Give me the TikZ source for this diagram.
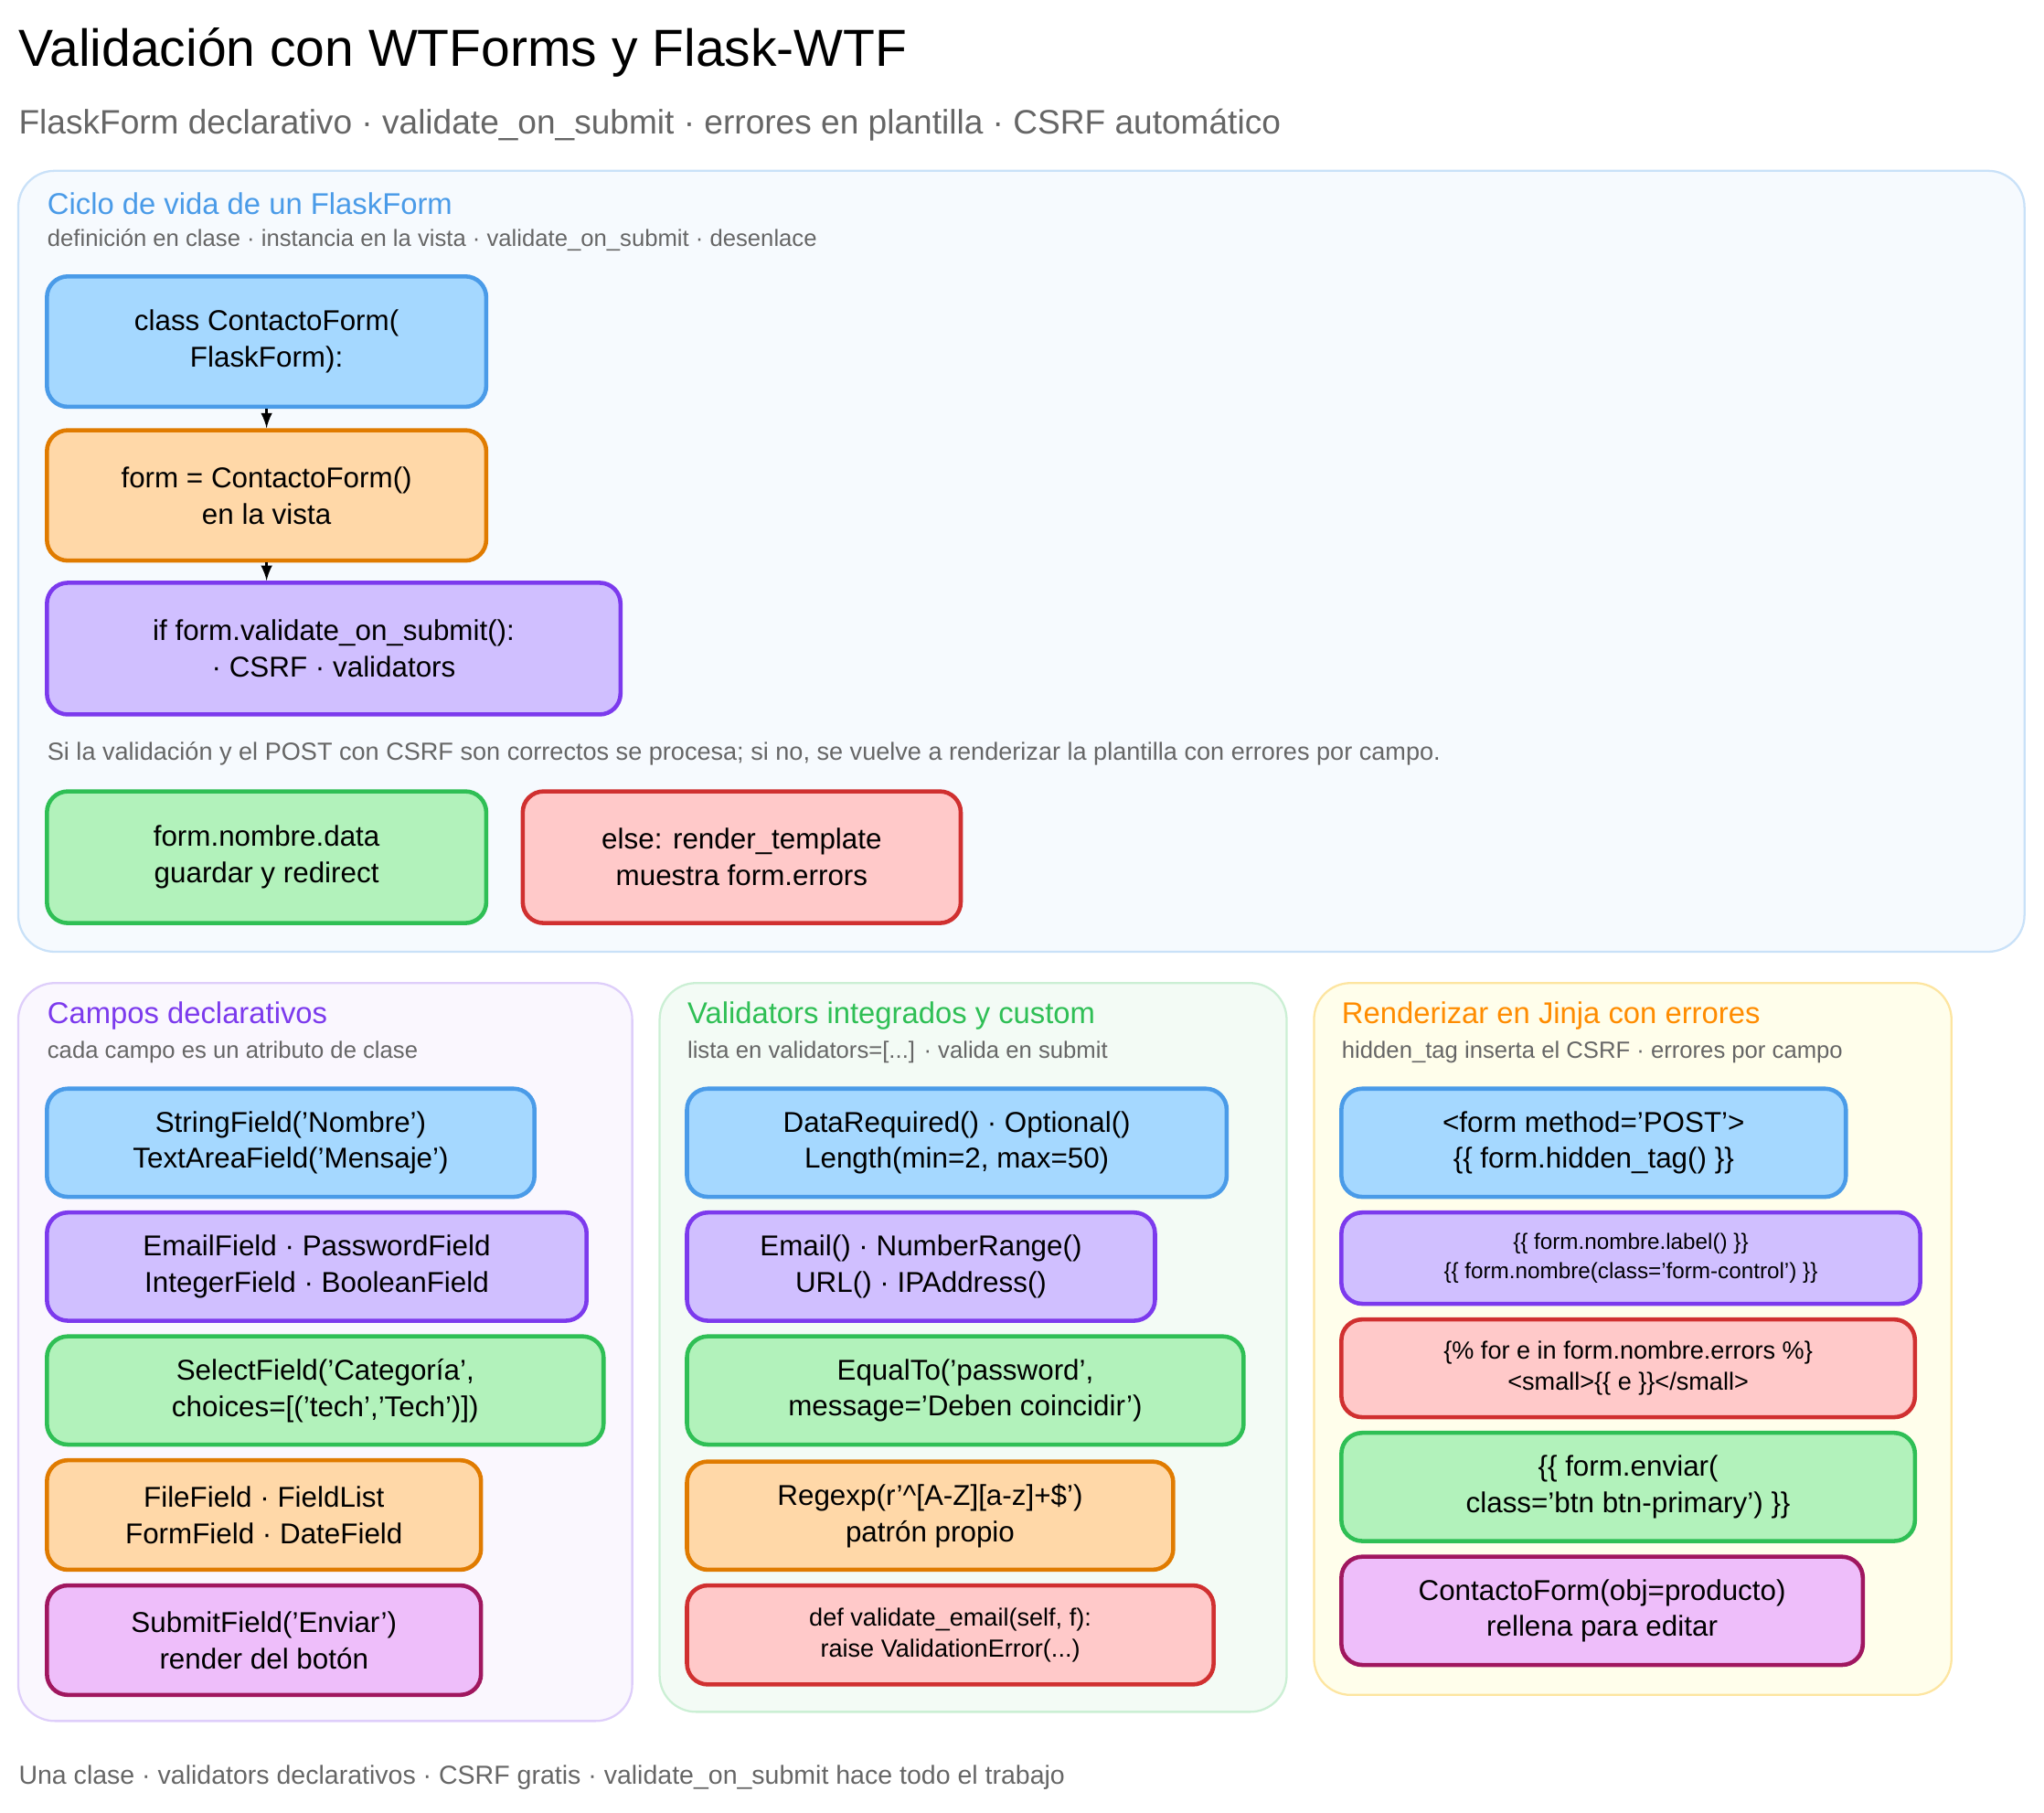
\documentclass[tikz,border=0pt]{standalone}
\usepackage{fontspec}
\setmainfont{Liberation Sans}
\usepackage{tikz}
\definecolor{inkBlue}{HTML}{4A9BE8}
\definecolor{fillBlue}{HTML}{A5D8FF}
\definecolor{inkOrange}{HTML}{E07B00}
\definecolor{fillOrange}{HTML}{FFD8A8}
\definecolor{inkPurple}{HTML}{7C3AED}
\definecolor{fillPurple}{HTML}{D0BFFF}
\definecolor{inkGreen}{HTML}{2FBF55}
\definecolor{fillGreen}{HTML}{B2F2BB}
\definecolor{inkRed}{HTML}{D03030}
\definecolor{fillRed}{HTML}{FFC9C9}
\definecolor{inkPink}{HTML}{A0175F}
\definecolor{fillPink}{HTML}{EEBEFA}
\definecolor{txtGray}{HTML}{666666}
\newcommand{\boxLine}[0]{1.6pt}
\begin{document}
\begin{tikzpicture}[x=0.5pt, y=-0.5pt,
  blk/.style={rounded corners=8pt, line width=\boxLine, align=center, inner sep=0pt, font=\fontsize{11}{14}\selectfont},
  blue/.style={blk, draw=inkBlue, fill=fillBlue},
  orange/.style={blk, draw=inkOrange, fill=fillOrange},
  purple/.style={blk, draw=inkPurple, fill=fillPurple},
  green/.style={blk, draw=inkGreen, fill=fillGreen},
  red/.style={blk, draw=inkRed, fill=fillRed},
  pink/.style={blk, draw=inkPink, fill=fillPink},
  panel/.style={rounded corners=14pt, line width=0.8pt, inner sep=0pt},
  ptitle/.style={anchor=west, inner sep=0pt, font=\fontsize{11.5}{14}\selectfont},
  psub/.style={anchor=west, inner sep=0pt, text=txtGray, font=\fontsize{9}{11}\selectfont},
  flow/.style={-latex, line width=1pt}]
  \useasboundingbox (0,0) rectangle (1568,1390);
  % heading
  \node[anchor=west, inner sep=0pt, font=\fontsize{20}{24}\selectfont] (title) at (14,40) {Validación con WTForms y Flask-WTF};
  \node[anchor=west, inner sep=0pt, text=txtGray, font=\fontsize{13}{16}\selectfont] (subtitle) at (14,96) {FlaskForm declarativo · validate\_on\_submit · errores en plantilla · CSRF automático};
  % panels
  \node[panel, draw=inkBlue!30, fill=inkBlue!5, minimum width=769.5pt, minimum height=299.5pt] (life) at (783.5,430.5) {};
  \node[panel, draw=inkPurple!25, fill=inkPurple!4, minimum width=235.5pt, minimum height=283pt] (fields) at (249.5,1037) {};
  \node[panel, draw=inkGreen!25, fill=inkGreen!6, minimum width=240.5pt, minimum height=279.5pt] (valid) at (746.5,1033.5) {};
  \node[panel, draw=yellow!50!orange!35, fill=yellow!8, minimum width=244.5pt, minimum height=273pt] (jinja) at (1252.5,1027) {};
  % lifecycle
  \node[ptitle, text=inkBlue] (lifeT) at (36,156) {Ciclo de vida de un FlaskForm};
  \node[psub] (lifeS) at (36,184) {definición en clase · instancia en la vista · validate\_on\_submit · desenlace};
  \node[blue, minimum width=168.5pt, minimum height=50pt] (cls) at (204.5,262) {class ContactoForm(\\FlaskForm):};
  \node[orange, minimum width=168.5pt, minimum height=50pt] (inst) at (204.5,380) {form = ContactoForm()\\en la vista};
  \node[purple, minimum width=220pt, minimum height=50.5pt] (vos) at (256,497.5) {if form.validate\_on\_submit():\\· CSRF · validators};
  \draw[flow] (cls) -- (inst);
  \draw[flow] (inst.south) -- (inst.south |- vos.north);
  \node[psub, font=\fontsize{9.5}{12}\selectfont] (note) at (36,578) {Si la validación y el POST con CSRF son correctos se procesa; si no, se vuelve a renderizar la plantilla con errores por campo.};
  \node[green, minimum width=168.5pt, minimum height=50.5pt] (ok) at (204.5,657.5) {form.nombre.data\\guardar y redirect};
  \node[red, minimum width=168pt, minimum height=50.5pt] (ko) at (569,657.5) {else: render\_template\\muestra form.errors};
  % fields
  \node[ptitle, text=inkPurple] (fieldsT) at (36,779) {Campos declarativos};
  \node[psub] (fieldsS) at (36,807) {cada campo es un atributo de clase};
  \node[blue, minimum width=187pt, minimum height=41.5pt] (f1) at (223,876.5) {StringField('Nombre')\\TextAreaField('Mensaje')};
  \node[purple, minimum width=207pt, minimum height=41.5pt] (f2) at (243,971.5) {EmailField · PasswordField\\IntegerField · BooleanField};
  \node[green, minimum width=213.5pt, minimum height=41.5pt] (f3) at (249.5,1066.5) {SelectField('Categoría',\\choices=[('tech','Tech')])};
  \node[orange, minimum width=166.5pt, minimum height=42pt] (f4) at (202.5,1162) {FileField · FieldList\\FormField · DateField};
  \node[pink, minimum width=166.5pt, minimum height=42pt] (f5) at (202.5,1258) {SubmitField('Enviar')\\render del botón};
  % validators
  \node[ptitle, text=inkGreen] (validT) at (527,779) {Validators integrados y custom};
  \node[psub] (validS) at (527,807) {lista en validators=[...] · valida en submit};
  \node[blue, minimum width=207pt, minimum height=41.5pt] (v1) at (734,876.5) {DataRequired() · Optional()\\Length(min=2, max=50)};
  \node[purple, minimum width=179.5pt, minimum height=41.5pt] (v2) at (706.5,971.5) {Email() · NumberRange()\\URL() · IPAddress()};
  \node[green, minimum width=213.5pt, minimum height=41.5pt] (v3) at (740.5,1066.5) {EqualTo('password',\\message='Deben coincidir')};
  \node[orange, minimum width=186.5pt, minimum height=41.5pt] (v4) at (713.5,1162.5) {Regexp(r'\^{}[A-Z][a-z]+\$')\\patrón propio};
  \node[red, minimum width=202pt, minimum height=38pt, font=\fontsize{9.5}{12}\selectfont] (v5) at (729,1254) {def validate\_email(self, f):\\raise ValidationError(...)};
  % jinja
  \node[ptitle, text=orange!90!yellow] (jinjaT) at (1029,779) {Renderizar en Jinja con errores};
  \node[psub] (jinjaS) at (1029,807) {hidden\_tag inserta el CSRF · errores por campo};
  \node[blue, minimum width=193.5pt, minimum height=41.5pt] (j1) at (1222.5,876.5) {<form method='POST'>\\\{\{ form.hidden\_tag() \}\}};
  \node[purple, minimum width=222pt, minimum height=35pt, font=\fontsize{8.5}{11}\selectfont] (j2) at (1251,965) {\{\{ form.nombre.label() \}\}\\\{\{ form.nombre(class='form-control') \}\}};
  \node[red, minimum width=220pt, minimum height=37.5pt, font=\fontsize{9.5}{12}\selectfont] (j3) at (1249,1049.5) {\{\% for e in form.nombre.errors \%\}\\<small>\{\{ e \}\}</small>};
  \node[green, minimum width=220pt, minimum height=41.5pt] (j4) at (1249,1140.5) {\{\{ form.enviar(\\class='btn btn-primary') \}\}};
  \node[pink, minimum width=200pt, minimum height=41.5pt] (j5) at (1229,1235.5) {ContactoForm(obj=producto)\\rellena para editar};
  % footer
  \node[anchor=west, inner sep=0pt, text=txtGray, font=\fontsize{10}{12}\selectfont] (foot) at (14,1363) {Una clase · validators declarativos · CSRF gratis · validate\_on\_submit hace todo el trabajo};
\end{tikzpicture}
\end{document}
